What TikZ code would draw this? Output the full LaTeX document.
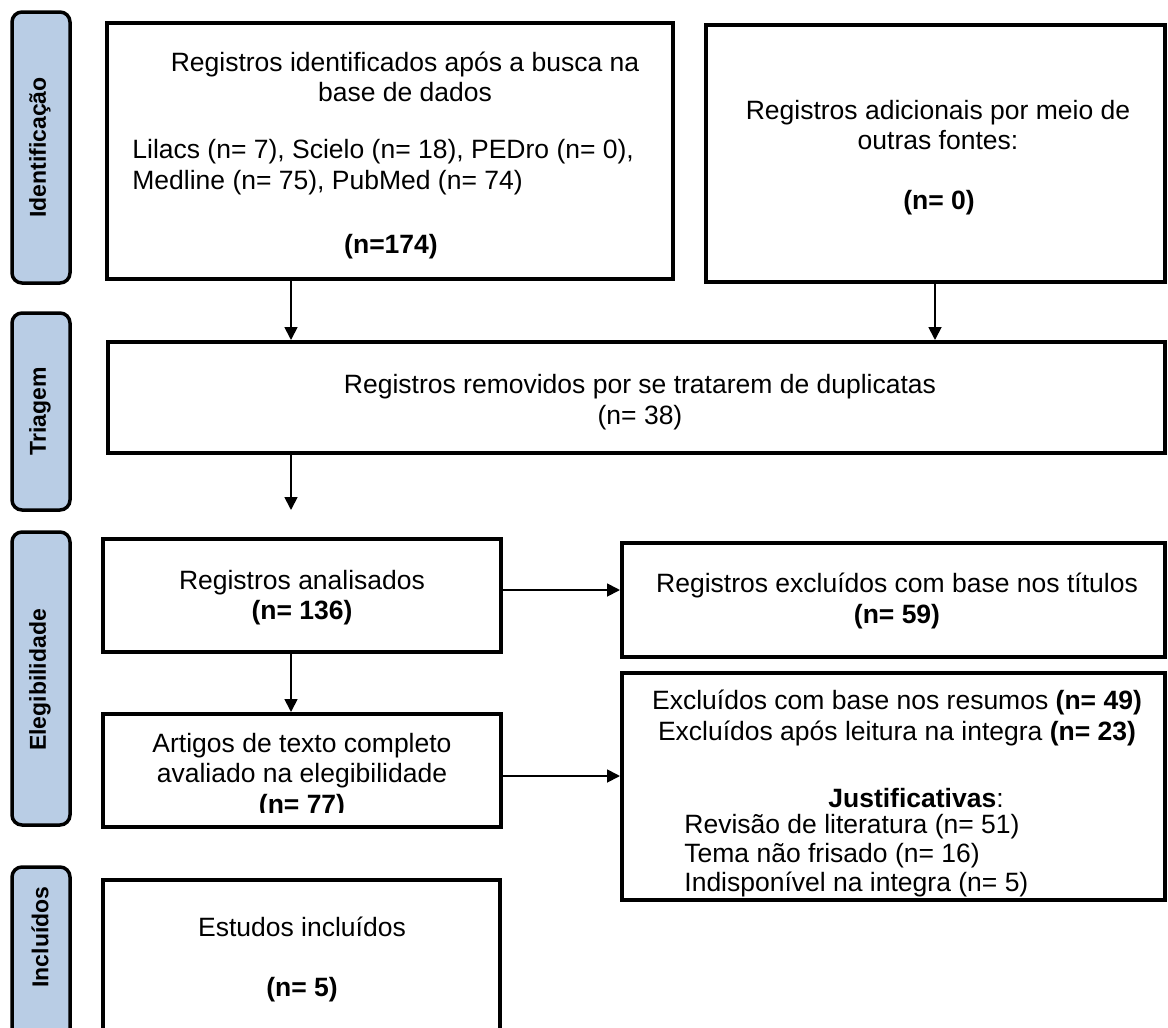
\documentclass[tikz,border=0pt]{standalone}
\usepackage{fontspec}
\setmainfont{Liberation Sans}
\usetikzlibrary{arrows.meta}
\definecolor{sideblue}{HTML}{B9CDE5}

\begin{document}
\begin{tikzpicture}[x=0.5pt,y=-0.5pt,
  box/.style={draw=black, line width=2pt, rectangle, inner sep=0pt},
  side/.style={draw=black, line width=1.75pt, rounded corners=5pt, fill=sideblue, inner sep=0pt, minimum width=29pt},
  sidetext/.style={rotate=90, font=\fontsize{11.5pt}{13pt}\selectfont\bfseries, inner sep=0pt},
  txt/.style={font=\fontsize{13.25pt}{15.2pt}\selectfont, inner sep=0pt, align=center},
  arr/.style={-{Triangle[length=6.5pt,width=6.5pt]}, line width=0.9pt}]
\useasboundingbox (0,0) rectangle (1168,1028);

% side labels
\node[side, minimum height=135.5pt] (s1) at (41,147.5) {};
\node[sidetext] (s1t) at (40,147.5) {Identificação};
\node[side, minimum height=98.5pt] (s2) at (41,411.5) {};
\node[sidetext] (s2t) at (40,411.5) {Triagem};
\node[side, minimum height=146.5pt] (s3) at (41,678.5) {};
\node[sidetext] (s3t) at (40,680) {Elegibilidade};
\node[side, minimum height=91.5pt] (s4) at (41,958.5) {};
\node[sidetext] (s4t) at (40,937) {Incluídos};

% boxes
\node[box, minimum width=283pt, minimum height=128pt] (b1) at (390,151) {};
\node[box, minimum width=229.5pt, minimum height=128.5pt] (b2) at (935.5,153.5) {};
\node[box, minimum width=528.5pt, minimum height=55.5pt] (tri) at (636.5,397.5) {};
\node[box, minimum width=199pt, minimum height=56.5pt] (an) at (302,595.5) {};
\node[box, minimum width=199pt, minimum height=56.5pt] (art) at (302,770.5) {};
\node[box, minimum width=271.5pt, minimum height=57pt] (ex1) at (893.5,600) {};
\node[box, minimum width=271.5pt, minimum height=113.5pt] (ex2) at (893.5,786.5) {};
\node[box, minimum width=198.5pt, minimum height=85pt] (inc) at (301.5,965) {};

% texts
\node[txt] (b1a) at (405,77) {Registros identificados após a busca na\\base de dados};
\node[txt, align=left, anchor=west] (b1b) at (132,167) {Lilacs (n= 7), Scielo (n= 18), PEDro (n= 0),\\Medline (n= 75), PubMed (n= 74)};
\node[txt] (b1c) at (391,247) {\bfseries (n=174)};
\node[txt] (b2a) at (938,125) {Registros adicionais por meio de\\outras fontes:};
\node[txt] (b2b) at (939,203) {\bfseries (n= 0)};
\node[txt] (tria) at (640,402) {Registros removidos por se tratarem de duplicatas\\(n= 38)};
\node[txt] (ana) at (302,597.5) {Registros analisados\\\textbf{(n= 136)}};
\begin{scope}
\clip (103,700) rectangle (501,812);
\node[txt] (arta) at (302,776) {Artigos de texto completo\\avaliado na elegibilidade\\\textbf{(n= 77)}};
\end{scope}
\node[txt] (ex1a) at (897,601) {Registros excluídos com base nos títulos\\\textbf{(n= 59)}};
\node[txt] (ex2a) at (897,718) {Excluídos com base nos resumos \textbf{(n= 49)}\\Excluídos após leitura na integra \textbf{(n= 23)}};
\node[txt] (ex2b) at (916,798) {\textbf{Justificativas}:};
\node[txt, font=\fontsize{13.25pt}{14.5pt}\selectfont, align=left, anchor=west] (ex2c) at (684,856) {Revisão de literatura (n= 51)\\Tema não frisado (n= 16)\\Indisponível na integra (n= 5)};
\node[txt] (inca) at (302,927) {Estudos incluídos};
\node[txt] (incb) at (302,990) {\bfseries (n= 5)};

% connectors
\coordinate (cx1) at (291,0);
\coordinate (cx2) at (935,0);
\coordinate (free) at (291,510);
\coordinate (ry1) at (0,590);
\coordinate (ry2) at (0,776);
\draw[arr] (b1.south -| cx1) -- (tri.north -| cx1);
\draw[arr] (b2.south -| cx2) -- (tri.north -| cx2);
\draw[arr] (tri.south -| cx1) -- (free);
\draw[arr] (an.south -| cx1) -- (art.north -| cx1);
\draw[arr] (an.east |- ry1) -- (ex1.west |- ry1);
\draw[arr] (art.east |- ry2) -- (ex2.west |- ry2);
\end{tikzpicture}
\end{document}
